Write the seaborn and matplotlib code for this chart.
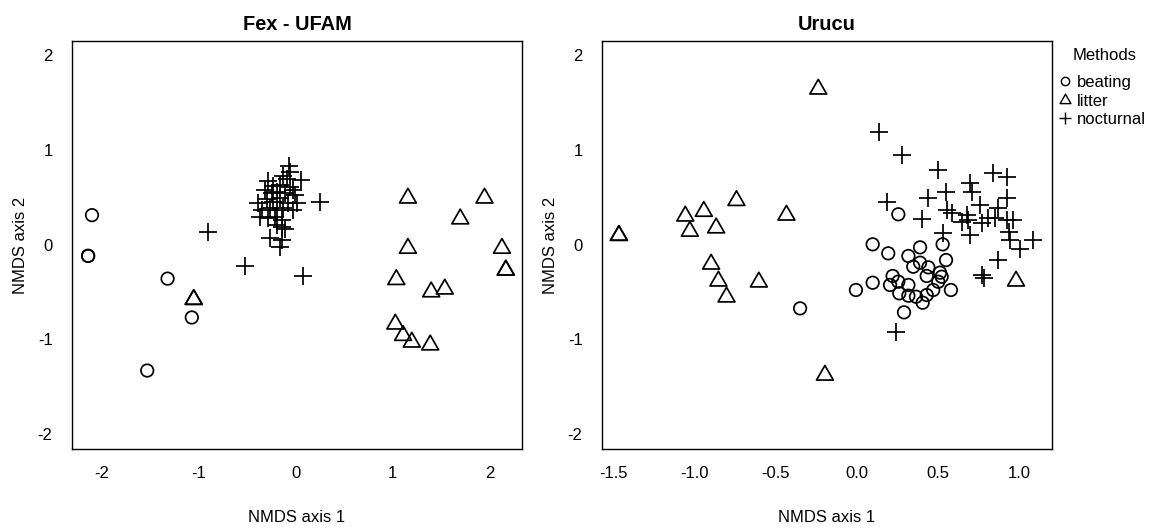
import numpy as np
import pandas as pd
import matplotlib
matplotlib.use("Agg")
import matplotlib.pyplot as plt
from matplotlib.lines import Line2D
from matplotlib.path import Path
import seaborn as sns

METHODS = ["beating", "litter", "nocturnal"]

# ---- Fex - UFAM -------------------------------------------------------
fex_beating_x = [-2.10, -2.14, -2.14, -1.32, -1.07, -1.53]
fex_beating_y = [0.31, -0.12, -0.12, -0.36, -0.77, -1.33]

fex_litter_x = [-1.05, -1.05, 1.16, 1.95, 1.70, 1.16, 2.13, 2.17, 2.17,
                1.04, 1.54, 1.40, 1.03, 1.11, 1.20, 1.39]
fex_litter_y = [-0.58, -0.58, 0.49, 0.49, 0.27, -0.04, -0.04, -0.27, -0.27,
                -0.37, -0.47, -0.50, -0.84, -0.96, -1.03, -1.06]

fex_noct_x = [-0.064, -0.057, 0.057, -0.132, -0.091, -0.280, -0.229, -0.160,
              -0.057, -0.022, -0.315, -0.246, -0.194, -0.108, -0.005, -0.384,
              -0.298, -0.229, -0.160, -0.074, 0.012, -0.349, -0.263, -0.194,
              -0.126, -0.022, -0.366, -0.280, -0.212, -0.143, -0.194, -0.143,
              -0.108, -0.263, -0.143, -0.160,
              -0.90, -0.52, 0.08, 0.25]
fex_noct_y = [0.828, 0.769, 0.681, 0.723, 0.688, 0.674, 0.617, 0.628,
              0.610, 0.575, 0.575, 0.540, 0.558, 0.540, 0.522, 0.434,
              0.477, 0.452, 0.487, 0.434, 0.434, 0.364, 0.382, 0.364,
              0.382, 0.364, 0.294, 0.276, 0.294, 0.259, 0.206, 0.181,
              0.160, 0.065, 0.047, -0.023,
              0.13, -0.23, -0.33, 0.45]

# ---- Urucu ------------------------------------------------------------
uru_beating_x = [0.255, 0.097, 0.193, 0.389, 0.528, 0.317, 0.549, 0.347,
                 0.389, 0.440, 0.430, 0.512, 0.522, 0.501, 0.220, 0.255,
                 0.204, 0.317, 0.097, -0.006, 0.261, 0.317, 0.364, 0.430,
                 0.470, 0.405, 0.579, 0.290, -0.350]
uru_beating_y = [0.319, 0.002, -0.093, -0.030, 0.002, -0.121, -0.164, -0.234,
                 -0.192, -0.241, -0.332, -0.297, -0.340, -0.393, -0.332, -0.392,
                 -0.427, -0.427, -0.403, -0.480, -0.515, -0.540, -0.551, -0.533,
                 -0.480, -0.614, -0.480, -0.716, -0.674]

uru_litter_x = [-1.466, -1.466, -1.057, -1.029, -0.943, -0.867, -0.742, -0.434,
                -0.898, -0.853, -0.803, -0.604, -0.238, -0.197, 0.980]
uru_litter_y = [0.096, 0.096, 0.300, 0.140, 0.350, 0.175, 0.464, 0.310,
                -0.207, -0.386, -0.554, -0.396, 1.640, -1.379, -0.386]

uru_noct_x = [0.136, 0.276, 0.501, 0.183, 0.440, 0.549, 0.399, 0.553, 0.584,
              0.532, 0.696, 0.707, 0.840, 0.922, 0.922, 0.758, 0.676, 0.645,
              0.686, 0.768, 0.809, 0.871, 0.850, 0.922, 0.963, 0.696, 0.938,
              0.943, 1.004, 1.086, 0.871, 0.768, 0.783, 0.241]
uru_noct_y = [1.186, 0.945, 0.786, 0.452, 0.487, 0.557, 0.266, 0.364, 0.329,
              0.118, 0.646, 0.557, 0.751, 0.716, 0.487, 0.417, 0.311, 0.241,
              0.259, 0.224, 0.276, 0.382, 0.276, 0.259, 0.259, 0.100, 0.135,
              0.047, -0.051, 0.047, -0.164, -0.322, -0.357, -0.920]

# open triangle like R's pch = 2 (equilateral, centred on its centroid)
TRI = Path([(0, 1), (-0.866, -0.5), (0.866, -0.5), (0, 1)], closed=True)
MARKERS = {"beating": "o", "litter": TRI, "nocturnal": "+"}
SIZES = {"beating": 81, "litter": 196, "nocturnal": 161}
LW = 1.25


def make_frame(bx, by, lx, ly, nx, ny):
    parts = []
    for m, xs, ys in [("beating", bx, by), ("litter", lx, ly), ("nocturnal", nx, ny)]:
        parts.append(pd.DataFrame({"x": xs, "y": ys, "method": m}))
    return pd.concat(parts, ignore_index=True)


def draw_panel(ax, df, title, xlim, xticks, xlabels):
    for m in METHODS:
        sub = df[df["method"] == m]
        if m == "nocturnal":
            sns.scatterplot(data=sub, x="x", y="y", marker="+", s=SIZES[m],
                            color="black", linewidth=LW, ax=ax)
        else:
            sns.scatterplot(data=sub, x="x", y="y", marker=MARKERS[m], s=SIZES[m],
                            facecolor="none", edgecolor="black", linewidth=LW, ax=ax)
    ax.set_xlim(*xlim)
    ax.set_ylim(-2.161, 2.151)
    ax.set_xticks(xticks)
    ax.set_xticklabels(xlabels)
    ax.set_yticks([-2, -1, 0, 1, 2])
    ax.set_yticklabels(["-2", "-1", "0", "1", "2"])
    ax.set_title(title, fontsize=14.4, fontweight="bold", pad=8, color="black")
    ax.set_xlabel("NMDS axis 1", fontsize=12, labelpad=21, color="black")
    ax.set_ylabel("NMDS axis 2", fontsize=12, labelpad=7, color="black")
    for sp in ax.spines.values():
        sp.set_visible(True)
        sp.set_linewidth(1.0)
        sp.set_color("black")
    ax.tick_params(axis="both", direction="out", length=7.7, width=1.0,
                   labelsize=12, colors="black")
    ax.tick_params(axis="x", pad=4)
    ax.tick_params(axis="y", pad=6.5)


sns.set_style("white")
plt.rcParams["font.family"] = ["Liberation Sans", "DejaVu Sans"]
plt.rcParams["text.color"] = "black"

fig = plt.figure(figsize=(11.55, 5.3), dpi=100)
ax1 = fig.add_axes([0.0626, 0.1523, 0.3891, 0.7709])
ax2 = fig.add_axes([0.5215, 0.1523, 0.3891, 0.7709])

fex = make_frame(fex_beating_x, fex_beating_y, fex_litter_x, fex_litter_y,
                 fex_noct_x, fex_noct_y)
uru = make_frame(uru_beating_x, uru_beating_y, uru_litter_x, uru_litter_y,
                 uru_noct_x, uru_noct_y)

draw_panel(ax1, fex, "Fex - UFAM", (-2.303, 2.334),
           [-2, -1, 0, 1, 2], ["-2", "-1", "0", "1", "2"])
draw_panel(ax2, uru, "Urucu", (-1.568, 1.20),
           [-1.5, -1.0, -0.5, 0.0, 0.5, 1.0],
           ["-1.5", "-1.0", "-0.5", "0.0", "0.5", "1.0"])

handles = [
    Line2D([], [], ls="none", marker="o", ms=6, mfc="none", mec="black", mew=1.0),
    Line2D([], [], ls="none", marker=TRI, ms=9, mfc="none", mec="black", mew=1.0),
    Line2D([], [], ls="none", marker="+", ms=9, color="black", mew=1.0),
]
fig.text(1105 / 1155, 1 - 55 / 530, "Methods", ha="center", va="center",
         fontsize=12, color="black")
fig.legend(handles, METHODS, loc="upper left",
           bbox_to_anchor=(0.916, 0.858), frameon=False, fontsize=12,
           handlelength=0.9, handletextpad=0.25,
           labelspacing=0.2, borderaxespad=0, borderpad=0)

fig.savefig("out.png", dpi=100)
